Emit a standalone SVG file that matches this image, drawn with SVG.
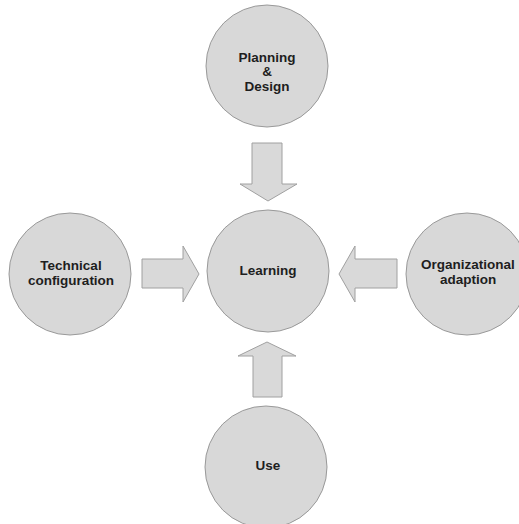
<svg xmlns="http://www.w3.org/2000/svg" width="519" height="524" viewBox="0 0 519 524">
  <style>
    .node { fill: #d8d8d8; stroke: #999999; stroke-width: 1; }
    .arrow { fill: #d9d9d9; stroke: #a0a0a0; stroke-width: 1; stroke-linejoin: miter; }
    .label { font-family: "Liberation Sans", Arial, sans-serif; font-size: 13.5px; font-weight: bold; fill: #1e1e1e; text-anchor: middle; }
  </style>
  <rect width="519" height="524" fill="#ffffff"/>

  <!-- block arrows pointing into the centre -->
  <g id="connectors">
    <path class="arrow" d="M252,143 H282 V184 H297 L268,201 L240,184 H252 Z"/>
    <path class="arrow" d="M142,259 H183 V246 L199,274 L183,302 V288 H142 Z"/>
    <path class="arrow" d="M397,259 H355 V246 L339,274 L355,302 V288 H397 Z"/>
    <path class="arrow" d="M253,397 H282 V356 H296 L267,342 L238,356 H253 Z"/>
  </g>

  <g id="planning-design">
    <circle class="node" cx="267" cy="66" r="61"/>
    <text class="label" x="267" y="62">Planning</text>
    <text class="label" x="267" y="76">&amp;</text>
    <text class="label" x="267" y="91">Design</text>
  </g>

  <g id="learning">
    <circle class="node" cx="268" cy="271" r="61"/>
    <text class="label" x="268" y="275">Learning</text>
  </g>

  <g id="technical-configuration">
    <circle class="node" cx="70" cy="274" r="61"/>
    <text class="label" x="71" y="270">Technical</text>
    <text class="label" x="71" y="285">configuration</text>
  </g>

  <g id="organizational-adaption">
    <circle class="node" cx="467" cy="274" r="61"/>
    <text class="label" x="468" y="269">Organizational</text>
    <text class="label" x="468" y="284">adaption</text>
  </g>

  <g id="use">
    <circle class="node" cx="266" cy="467" r="61"/>
    <text class="label" x="268" y="470">Use</text>
  </g>
</svg>
